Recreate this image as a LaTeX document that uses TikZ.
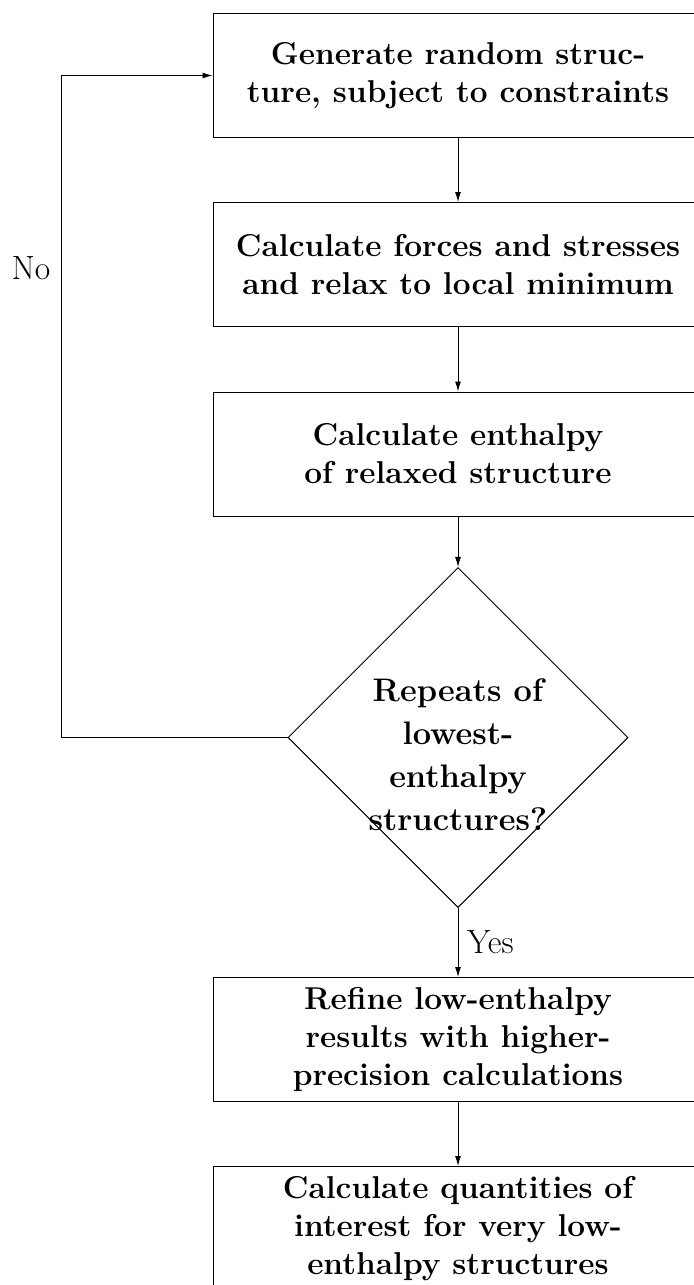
\documentclass[tikz,border=0pt]{standalone}
\usetikzlibrary{shapes.geometric,arrows.meta}
\begin{document}
\begin{tikzpicture}[x=0.5pt,y=-0.5pt,
  every node/.style={font=\fontsize{16.8}{21.5}\selectfont},
  stepbox/.style={draw,rectangle,minimum width=245pt,minimum height=62pt,inner sep=1pt,align=center,font=\fontsize{15.8}{19}\selectfont\bfseries},
  decide/.style={draw,diamond,aspect=1,minimum width=170pt,minimum height=170pt,inner sep=0pt,font=\fontsize{16.3}{21.6}\selectfont\bfseries},
  conn/.style={-{Latex[length=5pt,width=3pt]},line width=0.5pt},
  line width=0.5pt]
\useasboundingbox (0,0) rectangle (694,1285);
\clip (0,0) rectangle (694,1285);
\node[stepbox] (b1) at (458,75.5) {Generate random struc-\\ture, subject to constraints};
\node[stepbox] (b2) at (458,264.5) {Calculate forces and stresses\\and relax to local minimum};
\node[stepbox] (b3) at (458,454) {Calculate enthalpy\\of relaxed structure};
\node[decide] (d) at (458,737.5) {\raisebox{-14.3pt}[0pt][0pt]{\begin{tabular}{@{}c@{}}Repeats of\\lowest-\\enthalpy\\structures?\end{tabular}}};
\node[stepbox] (b4) at (458,1039.5) {Refine low-enthalpy\\results with higher-\\precision calculations};
\node[stepbox,anchor=north] (b5) at (458,1166) {Calculate quantities of\\interest for very low-\\enthalpy structures};
\coordinate (corner) at (61,737.5);
\draw[conn] (b1) -- (b2);
\draw[conn] (b2) -- (b3);
\draw[conn] (b3) -- (d);
\draw[conn] (d) -- node[right,xshift=1pt] (yes) {Yes} (b4);
\draw[conn] (b4) -- (b5);
\draw[conn] (d.west) -- (corner) |- (b1.west);
\node (no) at (31,268) {No};
\end{tikzpicture}
\end{document}
